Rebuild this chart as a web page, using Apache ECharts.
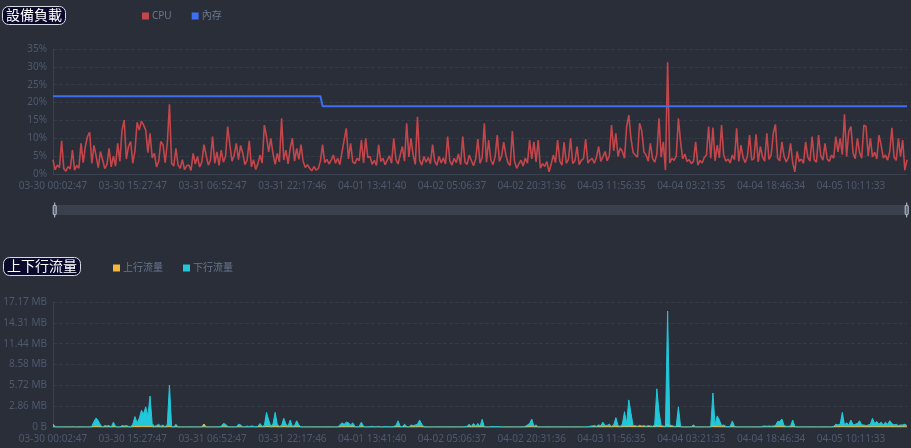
<!DOCTYPE html>
<html><head><meta charset="utf-8">
<script src="https://cdn.jsdelivr.net/npm/echarts@6/dist/echarts.min.js"></script>
<style>html,body{margin:0;padding:0;background:#292e39;}#c{width:911px;height:448px;}</style>
</head><body><div id="c"></div>
<script>
// x-axis tick labels (every 37th sample, 25-minute sampling)
const tickLabels = ['03-30 00:02:47','03-30 15:27:47','03-31 06:52:47','03-31 22:17:46','04-01 13:41:40','04-02 05:06:37','04-02 20:31:36','04-03 11:56:35','04-04 03:21:35','04-04 18:46:34','04-05 10:11:33'];
const yTicksCpu = [0,5,10,15,20,25,30,35];
// CPU (%)
const cpu = [
4.0,1.2,2.5,1.8,9.3,1.5,0.8,2.1,1.4,6.7,
1.1,2.4,1.6,8.6,3.2,7.7,10.5,11.7,3.0,8.0,
5.0,1.8,6.3,4.0,1.5,2.6,7.2,2.0,5.0,2.2,
8.6,3.5,12.3,15.1,4.2,7.7,9.1,3.0,6.5,14.5,
12.3,14.8,13.7,12.3,6.0,11.4,4.5,5.8,2.0,3.5,
9.1,8.2,3.2,8.6,19.5,3.0,2.2,7.2,2.5,1.6,
4.0,1.2,2.3,2.5,1.0,5.8,2.8,4.9,1.9,3.4,
8.2,5.3,2.5,3.8,10.5,3.0,6.2,2.4,6.7,3.3,
4.9,13.3,8.2,3.6,5.2,8.6,4.0,8.0,5.8,2.6,
3.9,9.3,2.0,4.0,1.3,2.9,5.3,3.1,13.7,10.5,
6.2,10.0,5.8,2.7,5.8,3.4,15.6,3.9,6.7,2.8,
7.2,10.0,3.6,7.2,4.1,8.2,3.5,1.8,2.6,1.6,
0.9,2.1,1.1,1.5,3.6,8.2,3.2,4.1,2.8,3.9,
5.3,3.0,4.4,2.6,6.1,9.5,12.8,4.2,8.6,3.4,
2.9,4.4,3.7,9.5,3.1,10.0,4.6,4.9,2.7,3.8,
2.4,8.2,3.5,4.4,2.6,3.9,5.1,3.0,10.0,4.1,
2.8,5.3,7.7,3.6,14.2,4.8,10.0,5.3,2.7,16.0,
3.9,2.5,4.9,3.3,4.6,2.9,8.2,3.6,2.4,4.9,
3.1,4.5,2.8,10.5,3.7,2.5,4.4,3.2,5.6,2.6,
10.5,3.4,2.7,5.3,3.8,2.3,4.2,9.8,3.0,4.6,
14.2,3.3,9.5,4.0,2.6,4.8,10.9,3.5,5.0,8.9,
5.3,3.1,2.4,12.0,3.6,1.6,2.8,3.9,2.2,4.5,
3.0,9.5,4.2,9.0,3.4,9.5,1.6,2.9,2.1,3.5,
0.6,2.8,5.3,3.2,9.5,3.6,2.5,8.9,3.0,4.1,
10.0,2.9,3.7,7.7,2.6,3.8,4.3,9.8,3.1,3.9,
4.4,3.0,4.6,7.7,3.5,4.8,6.3,3.7,5.2,13.7,
6.5,11.4,4.9,7.3,6.3,4.4,13.3,16.5,10.0,6.0,
5.3,4.7,14.2,12.1,6.2,5.3,3.6,8.6,4.4,3.3,
5.5,15.6,4.7,9.0,1.1,31.3,3.1,4.4,3.8,5.0,
15.6,9.0,4.2,5.6,3.5,4.0,2.9,3.6,9.0,2.5,
3.8,3.1,4.6,5.3,13.3,4.4,13.0,3.7,8.1,4.5,
13.7,5.3,3.6,4.2,3.1,5.3,4.0,12.8,3.5,8.1,
4.6,3.2,5.0,10.9,3.9,4.3,11.1,3.4,7.7,4.8,
3.6,11.4,4.1,5.2,11.4,13.9,4.4,3.7,9.0,4.9,
3.4,4.6,8.6,3.2,0.6,6.3,3.5,4.2,3.0,9.0,
4.7,3.6,10.5,4.0,3.3,10.9,5.1,3.9,8.6,4.2,
3.5,5.3,4.4,10.5,6.2,10.0,5.4,16.7,4.9,11.9,
13.3,5.8,4.3,10.0,6.0,4.4,13.7,13.3,5.0,10.0,
4.8,6.1,4.2,10.9,8.1,4.5,5.3,3.9,6.3,12.9,
4.7,3.8,10.0,4.9,9.5,1.1,4.0
];
// Memory (%)
const mem = [
21.8,21.8,21.8,21.8,21.8,21.8,21.8,21.8,21.8,21.8,
21.8,21.8,21.8,21.8,21.8,21.8,21.8,21.8,21.8,21.8,
21.8,21.8,21.8,21.8,21.8,21.8,21.8,21.8,21.8,21.8,
21.8,21.8,21.8,21.8,21.8,21.8,21.8,21.8,21.8,21.8,
21.8,21.8,21.8,21.8,21.8,21.8,21.8,21.8,21.8,21.8,
21.8,21.8,21.8,21.8,21.8,21.8,21.8,21.8,21.8,21.8,
21.8,21.8,21.8,21.8,21.8,21.8,21.8,21.8,21.8,21.8,
21.8,21.8,21.8,21.8,21.8,21.8,21.8,21.8,21.8,21.8,
21.8,21.8,21.8,21.8,21.8,21.8,21.8,21.8,21.8,21.8,
21.8,21.8,21.8,21.8,21.8,21.8,21.8,21.8,21.8,21.8,
21.8,21.8,21.8,21.8,21.8,21.8,21.8,21.8,21.8,21.8,
21.8,21.8,21.8,21.8,21.8,21.8,21.8,21.8,21.8,21.8,
21.8,21.8,21.8,21.8,21.8,19,19,19,19,19,
19,19,19,19,19,19,19,19,19,19,
19,19,19,19,19,19,19,19,19,19,
19,19,19,19,19,19,19,19,19,19,
19,19,19,19,19,19,19,19,19,19,
19,19,19,19,19,19,19,19,19,19,
19,19,19,19,19,19,19,19,19,19,
19,19,19,19,19,19,19,19,19,19,
19,19,19,19,19,19,19,19,19,19,
19,19,19,19,19,19,19,19,19,19,
19,19,19,19,19,19,19,19,19,19,
19,19,19,19,19,19,19,19,19,19,
19,19,19,19,19,19,19,19,19,19,
19,19,19,19,19,19,19,19,19,19,
19,19,19,19,19,19,19,19,19,19,
19,19,19,19,19,19,19,19,19,19,
19,19,19,19,19,19,19,19,19,19,
19,19,19,19,19,19,19,19,19,19,
19,19,19,19,19,19,19,19,19,19,
19,19,19,19,19,19,19,19,19,19,
19,19,19,19,19,19,19,19,19,19,
19,19,19,19,19,19,19,19,19,19,
19,19,19,19,19,19,19,19,19,19,
19,19,19,19,19,19,19,19,19,19,
19,19,19,19,19,19,19,19,19,19,
19,19,19,19,19,19,19,19,19,19,
19,19,19,19,19,19,19,19,19,19,
19,19,19,19,19,19,19
];
// Upload traffic (units of 1,000,000 bytes)
const upload = [
0.02,0.01,0,0,0,0,0,0,0,0.03,
0,0,0,0,0,0,0,0,0,0.05,
0.06,0.04,0.02,0,0.02,0,0.02,0,0.04,0,
0,0,0.02,0,0.02,0,0,0.03,0.08,0.05,
0.07,0.1,0.08,0.1,0.06,0.12,0.04,0,0.02,0.03,
0,0.02,0,0.03,0.1,0,0,0.02,0,0,
0,0,0,0,0,0,0,0,0,0,
0.43,0,0,0,0,0,0,0,0,0.03,
0.02,0,0,0,0,0,0.02,0.02,0,0,
0,0,0,0,0,0,0.03,0,0.02,0.08,
0.05,0,0.02,0.07,0.02,0,0.02,0.05,0.02,0,
0.04,0,0.02,0.04,0.02,0,0,0,0,0,
0,0,0,0,0,0,0,0,0,0,
0,0,0,0.02,0.03,0.02,0.03,0.03,0.02,0.03,
0,0,0,0.03,0,0,0,0,0,0,
0,0,0,0,0,0,0,0,0,0,
0.04,0,0,0.02,0,0,0.02,0,0.02,0.02,
0.05,0.02,0,0,0,0,0,0,0,0,
0,0,0,0,0,0,0,0,0,0,
0,0,0,0.02,0,0.02,0,0.02,0,0.05,
0,0,0,0,0,0,0,0,0,0,
0,0,0,0,0,0,0,0,0,0,
0.02,0.02,0.05,0,0.02,0,0,0,0,0,
0,0,0,0,0,0,0,0,0,0,
0,0,0,0,0,0,0,0,0,0,
0.02,0.03,0.02,0.03,0.02,0.04,0.02,0.03,0.04,0.02,
0.04,0.08,0.03,0.02,0.05,0.1,0.05,0.15,0.1,0.05,
0.06,0.05,0.07,0.05,0.06,0.04,0.06,0.05,0.04,0.06,
0.2,0.1,0.05,0.04,0.03,0.35,0.05,0.04,0.03,0.03,
0.12,0.02,0,0,0,0,0,0.02,0,0,
0,0,0,0,0,0,0.15,0.03,0.06,0.05,
0.02,0.02,0,0,0,0.04,0,0,0,0,
0,0,0,0,0,0,0,0,0,0,
0.02,0.02,0.02,0.02,0.02,0.02,0.04,0.04,0.05,0.02,
0.02,0.02,0.02,0.04,0.02,0,0,0,0,0,
0,0,0,0,0,0,0,0,0,0,
0,0,0.02,0.03,0.03,0.03,0.08,0.03,0.04,0.03,
0.05,0.03,0.03,0.04,0.05,0.03,0.03,0.02,0.03,0.03,
0.06,0.04,0.05,0.03,0.05,0.03,0.05,0.03,0.06,0.04,
0.03,0.04,0.03,0.03,0.03,0.04,0.02
];
// Download traffic (units of 1,000,000 bytes)
const download = [
0.43,0.05,0,0,0,0,0,0,0,0,
0,0,0,0,0,0,0,0,0.1,0.8,
1.3,0.9,0.3,0,0.2,0.15,0.2,0,0.7,0.1,
0,0,0.2,0.15,0.2,0.1,0,0.4,1.5,0.6,
1.25,2.4,1.9,2.9,1.6,4.46,0.5,0.1,0.2,0.4,
0.1,0.3,0,0.4,6.05,0.1,0,0.4,0,0,
0,0,0,0,0,0,0,0,0,0,
0,0,0,0,0,0,0,0,0.1,0.5,
0.4,0.1,0,0,0,0,0.4,0.3,0,0,
0.15,0.05,0.15,0.1,0,0.1,0.5,0.1,0.2,2.1,
1.0,0.1,0.4,2.1,0.4,0.1,0.2,1.25,0.4,0.1,
1.0,0.1,0.2,0.9,0.3,0,0,0,0,0,
0,0,0,0,0,0,0,0,0,0,
0,0,0,0.3,0.6,0.4,0.7,0.6,0.3,0.6,
0.1,0,0.1,0.7,0.1,0,0,0.05,0.1,0,
0.05,0.1,0,0,0.1,0,0.05,0,0.1,0.2,
0.9,0.1,0.05,0.4,0.1,0,0.3,0.2,0.3,0.4,
1.0,0.4,0.05,0,0,0,0,0,0,0,
0,0,0,0,0,0,0,0,0,0,
0,0.05,0.1,0.4,0.1,0.5,0.1,0.5,0.1,1.1,
0.05,0,0,0.05,0.05,0.05,0.05,0.05,0,0,
0,0,0,0,0,0,0,0,0,0.1,
0.3,0.5,1.15,0.1,0.3,0,0,0,0,0,
0,0,0,0,0,0,0,0,0,0,
0,0,0,0,0,0,0,0,0.05,0.1,
0.15,0.2,0.1,0.3,0.2,0.7,0.2,0.25,0.4,0.1,
0.3,1.35,0.2,0.1,0.4,2.2,0.5,3.9,2.0,0.2,
0.2,0.1,0.25,0.15,0.2,0.1,0.2,0.15,0.1,0.3,
5.5,2.2,0.2,0.15,0.1,16.7,0.3,0.2,0.1,0.1,
2.9,0.1,0,0,0,0,0.05,0.3,0,0,
0,0,0,0,0,0.1,4.9,0.3,1.6,1.0,
0.2,0.3,0.1,0.05,0.1,0.87,0.1,0,0,0,
0,0,0,0,0,0,0,0,0,0.1,
0.15,0.1,0.15,0.1,0.15,0.2,0.8,0.8,1.15,0.2,
0.1,0.1,0.15,1.0,0.1,0,0,0,0,0,
0,0,0,0,0,0,0,0,0,0,
0,0,0.1,0.4,0.3,0.4,2.1,0.3,0.6,0.3,
1.0,0.3,0.4,0.5,0.9,0.3,0.3,0.2,0.3,0.4,
1.25,0.5,0.8,0.4,0.7,0.3,0.7,0.4,0.9,0.5,
0.3,0.4,0.2,0.3,0.3,0.4,0.2
];
const yMaxTraffic = 18, yStepTraffic = 3;

// build category timestamps from anchor tick labels (25-minute steps)
const STEP = 37;
function parseTs(s){const m=s.match(/(\d+)-(\d+) (\d+):(\d+):(\d+)/);return Date.UTC(2024,+m[1]-1,+m[2],+m[3],+m[4],+m[5]);}
function p2(n){return (n<10?'0':'')+n;}
function fmt(t){const d=new Date(t);return p2(d.getUTCMonth()+1)+'-'+p2(d.getUTCDate())+' '+p2(d.getUTCHours())+':'+p2(d.getUTCMinutes())+':'+p2(d.getUTCSeconds());}
const categories = [];
for(let i=0;i<cpu.length;i++){
  const k=Math.min(Math.floor(i/STEP),tickLabels.length-1);
  categories.push(i-k*STEP===0?tickLabels[k]:fmt(parseTs(tickLabels[k])+(i-k*STEP)*25*60000));
}

const labelColor='#4f596e', legendColor='#6b7890', splitColor='#343a48', axisColor='#3a4252';
const FONT='"Noto Sans","Noto Sans CJK TC",sans-serif';
function bytesFmt(v){ if(v===0) return '0 B'; return (v*1e6/1048576).toFixed(2)+' MB'; }
const xAxisBase = (gi)=>({
  type:'category', gridIndex:gi, data:categories, boundaryGap:false,
  axisLine:{show:true,lineStyle:{color:axisColor}}, axisTick:{show:false},
  axisLabel:{interval:STEP-1,color:labelColor,fontSize:10,fontFamily:FONT,margin:7},
  splitLine:{show:false}
});
const chart = echarts.init(document.getElementById('c'),null,{renderer:'canvas'});
chart.setOption({
  animation:false,
  backgroundColor:'#292e39',
  textStyle:{fontFamily:FONT},
  title:[
    {text:'設備負載',left:2,top:6,padding:[2,4,3,4],backgroundColor:'#0a0b2c',borderColor:'#d8dbe4',borderWidth:1,borderRadius:6,
     textStyle:{color:'#ffffff',fontSize:14,fontWeight:'normal',fontFamily:'"Noto Sans CJK TC",sans-serif'}},
    {text:'上下行流量',left:3,top:257,padding:[2,4,3,4],backgroundColor:'#0a0b2c',borderColor:'#d8dbe4',borderWidth:1,borderRadius:6,
     textStyle:{color:'#ffffff',fontSize:14,fontWeight:'normal',fontFamily:'"Noto Sans CJK TC",sans-serif'}}
  ],
  legend:[
    {data:['CPU','內存'],left:137,top:6,icon:'rect',itemWidth:7,itemHeight:7,itemGap:20,
     textStyle:{color:legendColor,fontSize:10,fontFamily:FONT,padding:[0,0,0,-2]}},
    {data:['上行流量','下行流量'],left:108,top:258,icon:'rect',itemWidth:7,itemHeight:7,itemGap:20,
     textStyle:{color:legendColor,fontSize:10,fontFamily:FONT,padding:[0,0,0,-2]}}
  ],
  grid:[
    {left:53,right:4,top:49,height:125},
    {left:53,right:4,top:302,height:125}
  ],
  xAxis:[xAxisBase(0),xAxisBase(1)],
  yAxis:[
    {type:'value',gridIndex:0,min:yTicksCpu[0],max:yTicksCpu[yTicksCpu.length-1],interval:yTicksCpu[1]-yTicksCpu[0],
     axisLine:{show:true,lineStyle:{color:axisColor}},axisTick:{show:false},
     axisLabel:{color:labelColor,fontSize:10,formatter:'{value}%',margin:6},
     splitLine:{show:true,lineStyle:{color:splitColor,type:'dashed'}}},
    {type:'value',gridIndex:1,min:0,max:yMaxTraffic,interval:yStepTraffic,
     axisLine:{show:true,lineStyle:{color:axisColor}},axisTick:{show:false},
     axisLabel:{color:labelColor,fontSize:10,formatter:bytesFmt,margin:6},
     splitLine:{show:true,lineStyle:{color:splitColor,type:'dashed'}}}
  ],
  dataZoom:[
    {type:'slider',xAxisIndex:[0,1],start:0,end:100,left:53,right:4,top:205,height:10,
     backgroundColor:'#373c4a',fillerColor:'rgba(60,66,80,0.6)',borderColor:'transparent',
     showDataShadow:false,showDetail:false,
     handleIcon:'path://M-9.35,34.56V42m0-40V9.5m-2,0h4a2,2,0,0,1,2,2v21a2,2,0,0,1-2,2h-4a2,2,0,0,1-2-2v-21A2,2,0,0,1-11.35,9.5Z',
     handleSize:'150%',handleStyle:{color:'#5a6274',borderColor:'#b8c2d2',borderWidth:1},
     moveHandleSize:0,brushSelect:false,
     dataBackground:{lineStyle:{opacity:0},areaStyle:{opacity:0}}}
  ],
  series:[
    {name:'CPU',type:'line',xAxisIndex:0,yAxisIndex:0,data:cpu,showSymbol:false,symbol:'none',
     itemStyle:{color:'#c4464a'},lineStyle:{color:'#c4464a',width:1.6}},
    {name:'內存',type:'line',xAxisIndex:0,yAxisIndex:0,data:mem,showSymbol:false,symbol:'none',
     itemStyle:{color:'#3d6ff0'},lineStyle:{color:'#3d6ff0',width:2}},
    {name:'上行流量',type:'line',xAxisIndex:1,yAxisIndex:1,data:upload,showSymbol:false,symbol:'none',
     itemStyle:{color:'#f4b63c'},lineStyle:{color:'#f4b63c',width:1},areaStyle:{color:'#f4b63c',opacity:1}},
    {name:'下行流量',type:'line',xAxisIndex:1,yAxisIndex:1,data:download,showSymbol:false,symbol:'none',
     itemStyle:{color:'#22c7d9'},lineStyle:{color:'#22c7d9',width:1},areaStyle:{color:'#22c7d9',opacity:1}}
  ]
});
</script></body></html>
